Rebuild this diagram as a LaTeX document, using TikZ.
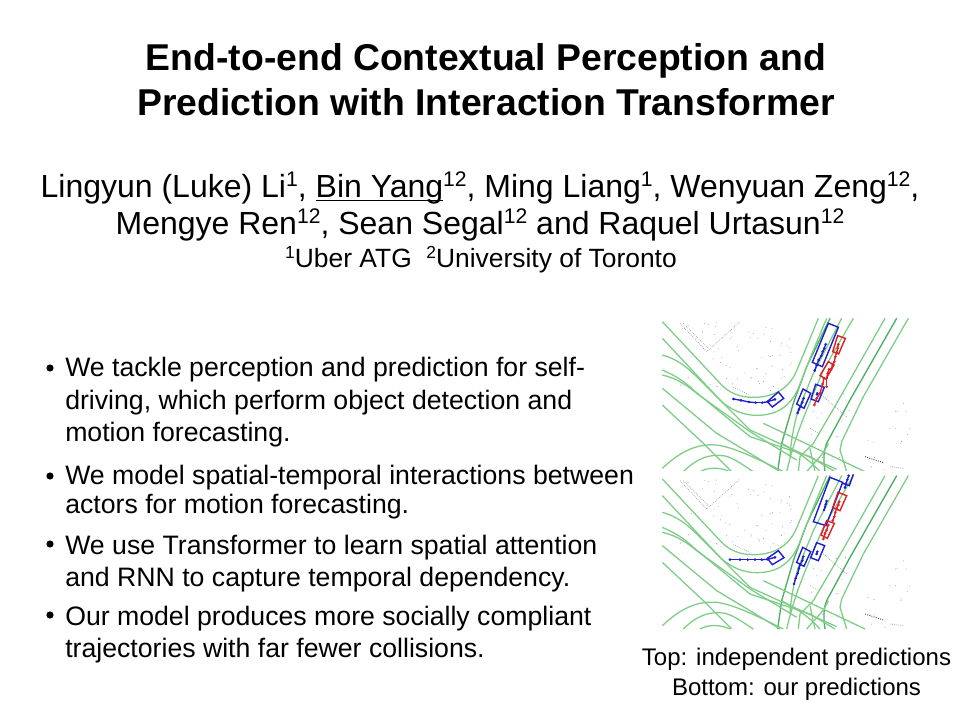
\documentclass[tikz,border=0pt]{standalone}
\usepackage{fontspec}
\setmainfont{Liberation Sans}
\newcommand{\sptext}[1]{\raisebox{0.36em}{\fontsize{0.66em}{0.66em}\selectfont #1}}
\newcommand{\fs}[1]{\fontsize{#1}{#1}\selectfont}
\newsavebox{\ulbox}
\newcommand{\lowline}[1]{\sbox{\ulbox}{#1}\makebox[0pt][l]{\raisebox{-2.4pt}{\rule{\wd\ulbox}{0.85pt}}}\usebox{\ulbox}}
\definecolor{roadgreen}{RGB}{125,205,135}
\definecolor{roaddark}{RGB}{75,175,95}
\definecolor{trkblue}{RGB}{30,30,205}
\definecolor{trkred}{RGB}{225,30,35}
\definecolor{speck}{RGB}{150,150,150}
\tikzset{
  titletext/.style={anchor=base,inner sep=0pt,font=\fs{28pt}\bfseries},
  authortext/.style={anchor=base,inner sep=0pt,font=\fs{24pt}},
  affiltext/.style={anchor=base,inner sep=0pt,font=\fs{19.8pt}},
  bullettext/.style={anchor=base west,inner sep=0pt,font=\fs{20pt}},
  captiontext/.style={anchor=base,inner sep=0pt,font=\fs{18pt}},
  bulletdot/.style={fill=black,draw=none},
  road/.style={draw=roadgreen,line width=0.95pt,line join=round},
  roadd/.style={draw=roaddark,line width=1pt,line join=round},
  bluebox/.style={draw=trkblue,line width=1.05pt},
  redbox/.style={draw=trkred,line width=1.05pt},
  bluetrack/.style={draw=trkblue,line width=1pt},
  redtrack/.style={draw=trkred,line width=1pt},
  specks/.style={draw=speck,line width=0.5pt,densely dotted},
}
\newcommand{\roadnet}{%
  \draw[road] (775,25) -- (640,260) -- (575,395) -- (570,420) -- (590,485);
  \draw[roadd] (740,25) -- (600,270) -- (530,400) .. controls (520,425) and (520,450) .. (525,485);
  \draw[road] (705,25) -- (560,280) -- (490,400) -- (450,440) -- (445,485);
  \draw[road] (610,25) -- (520,180) -- (470,300) .. controls (445,360) and (425,420) .. (410,485);
  \draw[road] (575,25) -- (490,190) -- (445,300) .. controls (430,345) and (420,420) .. (420,440);
  \draw[roadd] (540,25) -- (470,170) -- (430,280) -- (395,400) -- (383,485);
  \draw[road] (505,25) -- (470,110) -- (445,170) .. controls (425,225) and (385,262) .. (310,262)
     .. controls (270,262) and (240,250) .. (215,225) -- (37,35);
  \draw[road] (530,25) -- (490,120) -- (445,235) .. controls (420,290) and (380,316) .. (320,316)
     .. controls (280,316) and (245,300) .. (215,275) -- (37,85);
  \draw[road] (37,135) .. controls (90,150) and (120,180) .. (150,210) -- (300,360) -- (520,460) -- (560,478);
  \draw[road] (37,180) .. controls (70,195) and (100,210) .. (130,240) -- (300,380) -- (480,440) -- (555,485);
  \draw[road] (37,195) .. controls (80,205) and (110,225) .. (140,250) -- (300,365) -- (440,450);
  \draw[road] (37,235) -- (200,370) -- (300,430) -- (390,485);
  \draw[road] (37,285) -- (160,400) -- (245,485);
  \draw[road] (340,340) -- (645,485);
  \draw[road] (37,475) .. controls (90,425) and (140,400) .. (200,405) .. controls (250,412) and (310,440) .. (400,485);
  \draw[road] (100,485) .. controls (140,445) and (180,430) .. (225,438) .. controls (255,445) and (285,470) .. (310,485);
  \draw[road] (150,485) .. controls (175,472) and (205,470) .. (240,485);
  \draw[road] (535,400) .. controls (520,435) and (495,455) .. (470,485);
  \draw[road] (480,415) .. controls (485,440) and (490,460) .. (495,485);
  \draw[road] (395,400) .. controls (430,420) and (470,440) .. (510,485);
  \draw[specks] (90,40) -- (170,125) -- (270,35);
  \draw[specks] (100,40) -- (175,115);
  \draw[draw=black!70,line width=0.7pt,densely dotted] (645,440) -- (700,458);
  \draw[specks] (720,470) -- (760,475);
  \draw[specks] (250,232) -- (300,255);
  \draw[specks] (480,355) -- (510,372);
  \draw[specks] (520,260) -- (590,320);
  \pgfmathsetseed{4711}
  \foreach \i in {1,...,70} {
    \pgfmathsetmacro{\sx}{90+rnd*340}
    \pgfmathsetmacro{\sy}{35+rnd*210}
    \fill[speck] (\sx,\sy) circle (1.4);
  }
  \foreach \i in {1,...,40} {
    \pgfmathsetmacro{\sx}{460+rnd*320}
    \pgfmathsetmacro{\sy}{250+rnd*230}
    \fill[speck] (\sx,\sy) circle (1.4);
  }
}
\newcommand{\track}[2]{%
  \foreach \p [count=\k] in {#2} {
    \ifnum\k=1 \xdef\lastp{\p}\else
      \draw[#1] \lastp -- \p;
      \xdef\lastp{\p}\fi
    \fill[#1color] \p circle (4.4);
  }
}
\colorlet{bluetrackcolor}{trkblue}
\colorlet{redtrackcolor}{trkred}
\begin{document}
\begin{tikzpicture}[x=0.75pt,y=-0.75pt]
\useasboundingbox (0,0) rectangle (960,720);
\fill[white] (0,0) rectangle (960,720);

\node[titletext] (title1) at (486,70.5) {End-to-end Contextual Perception and};
\node[titletext] (title2) at (486,115.5) {Prediction with Interaction Transformer};

\node[authortext] (auth1) at (480,198) {Lingyun (Luke) Li\sptext{1}, \lowline{Bin Yang}\sptext{12}, Ming Liang\sptext{1}, Wenyuan Zeng\sptext{12},};
\node[authortext] (auth2) at (480,235) {Mengye Ren\sptext{12}, Sean Segal\sptext{12} and Raquel Urtasun\sptext{12}};
\node[affiltext] (affil) at (481,268) {\sptext{1}Uber ATG\ \ \sptext{2}University of Toronto};

\foreach \yy in {368,476,544,615}
  \fill[bulletdot] (50,\yy) circle (3.6);
\node[bullettext] (l1) at (65,376.5) {We tackle perception and prediction for self-};
\node[bullettext] (l2) at (65,409) {driving, which perform object detection and};
\node[bullettext] (l3) at (65,441) {motion forecasting.};
\node[bullettext] (l4) at (65,484) {We model spatial-temporal interactions between};
\node[bullettext] (l5) at (65,513) {actors for motion forecasting.};
\node[bullettext] (l6) at (65,554) {We use Transformer to learn spatial attention};
\node[bullettext] (l7) at (65,586) {and RNN to capture temporal dependency.};
\node[bullettext] (l8) at (65,625) {Our model produces more socially compliant};
\node[bullettext] (l9) at (65,657) {trajectories with far fewer collisions.};

\node[captiontext] (cap1) at (796.5,665) {Top: independent predictions};
\node[captiontext] (cap2) at (796.5,695) {Bottom: our predictions};

\begin{scope}[shift={(650,310)},x=0.25pt,y=-0.25pt]
  \begin{scope}
    \clip (30,25) rectangle (790,480);
    \roadnet
  \end{scope}
  \draw[bluebox] (535,40) -- (565,52) -- (517,170) -- (487,157) -- cycle;
  \draw[redbox] (563,77) -- (586,85) -- (566,132) -- (548,125) -- cycle;
  \draw[redbox] (535,155) -- (552,165) -- (528,207) -- (510,197) -- cycle;
  \draw[bluebox] (497,223) -- (523,232) -- (505,275) -- (483,267) -- cycle;
  \draw[bluebox] (459,237) -- (482,250) -- (462,295) -- (440,282) -- cycle;
  \draw[bluebox] (385,246) -- (401,265) -- (367,291) -- (352,275) -- cycle;
  \track{bluetrack}{(250,267),(273,271),(297,276),(317,278),(337,278),(353,275),(375,268)}
  \track{bluetrack}{(527,103),(523,115),(518,125),(514,137),(506,150),(500,165),(494,182)}
  \track{bluetrack}{(461,265),(457,277),(451,290),(447,298),(443,309)}
  \track{redtrack}{(565,103),(563,115),(560,127),(556,140),(553,155),(548,165),(543,178)}
  \track{redtrack}{(537,178),(533,190),(530,205),(530,230)}
  \track{redtrack}{(522,205),(518,222),(510,250),(500,265),(493,285)}
  \track{bluetrack}{(502,250),(501,253)}
\end{scope}

\begin{scope}[shift={(650,465)},x=0.25pt,y=-0.25pt]
  \begin{scope}[shift={(0,7)}]
    \clip (30,21) rectangle (790,485);
    \roadnet
  \end{scope}
  \draw[bluebox] (540,37) -- (578,52) -- (528,182) -- (490,170) -- cycle;
  \draw[bluebox] (610,28) -- (598,62) -- (578,55);
  \draw[redbox] (564,82) -- (590,92) -- (570,137) -- (548,128) -- cycle;
  \draw[redbox] (530,167) -- (553,175) -- (532,220) -- (513,210) -- cycle;
  \draw[bluebox] (500,233) -- (524,242) -- (505,287) -- (482,278) -- cycle;
  \draw[bluebox] (458,247) -- (482,260) -- (462,304) -- (440,292) -- cycle;
  \draw[bluebox] (385,257) -- (402,278) -- (367,299) -- (352,280) -- cycle;
  \track{bluetrack}{(240,284),(270,284),(293,284),(315,284),(335,284),(353,283),(375,277)}
  \track{bluetrack}{(530,108),(527,118),(525,126),(522,135)}
  \track{bluetrack}{(596,32),(592,44),(588,56),(585,68)}
  \track{bluetrack}{(460,275),(457,287),(450,300),(447,310),(443,325),(437,340),(432,357)}
  \track{bluetrack}{(502,260),(500,267)}
  \track{redtrack}{(568,110),(565,120),(560,130),(556,142),(553,155),(548,167)}
  \track{redtrack}{(535,180),(530,195),(525,205),(520,222)}
\end{scope}
\end{tikzpicture}
\end{document}
